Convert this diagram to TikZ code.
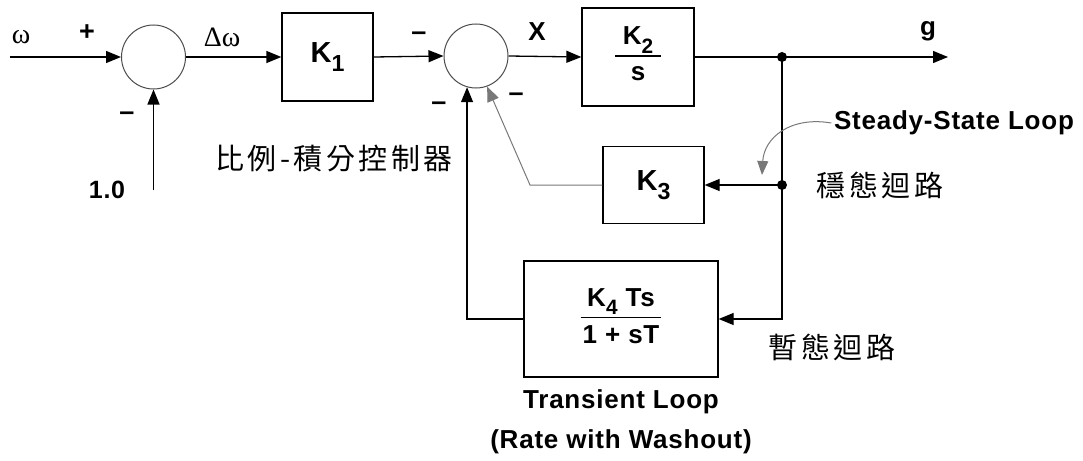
\documentclass[tikz,border=0pt]{standalone}
\usepackage{fontspec}
\usepackage{graphicx}
\setmainfont{Liberation Sans}[LetterSpace=3]
\newfontfamily\cjk{Noto Sans CJK TC}[LetterSpace=12]
\newfontfamily\grk{Liberation Serif}
\usetikzlibrary{arrows.meta}
\definecolor{lgrey}{RGB}{120,120,120}
\newcommand\lsub[1]{\raisebox{-0.32em}{\scalebox{0.8}{#1}}}
\begin{document}
\begin{tikzpicture}[x=1pt,y=-1pt,
  line width=1.3pt,
  >={Triangle[length=15pt,width=12pt]},
  blk/.style={draw, line width=1.3pt, inner sep=0pt, align=center},
  sumc/.style={draw=black!70, circle, line width=1pt, minimum size=64pt, inner sep=0pt},
  dotn/.style={circle, fill, inner sep=0pt, minimum size=10pt},
  lbl/.style={inner sep=0pt, font=\fontsize{26}{28}\selectfont\bfseries},
  sgn/.style={inner sep=0pt, font=\fontsize{27}{28}\selectfont\bfseries},
  grklbl/.style={inner sep=0pt, font=\fontsize{28}{30}\selectfont\grk},
  cjklbl/.style={inner sep=0pt, font=\fontsize{29}{32}\selectfont\cjk},
  note/.style={inner sep=2pt, font=\fontsize{26}{30}\selectfont\bfseries},
  fb/.style={draw=lgrey, line width=1pt}
]
\path[use as bounding box] (0,0) rectangle (1083,460);

% summing junctions
\node[sumc] (s1) at (153.5,57) {};
\node[sumc] (s2) at (476,56) {};

% blocks
\node[blk, minimum width=91pt, minimum height=88pt, font=\fontsize{29}{32}\selectfont\bfseries] (K1) at (327.5,57) {K\lsub{1}};
\node[blk, minimum width=112pt, minimum height=98pt, font=\fontsize{26}{29}\selectfont\bfseries] (K2) at (638,57)
  {\setlength\arrayrulewidth{1.3pt}\setlength\tabcolsep{8pt}\begin{tabular}{c}K\lsub{2}\\[2pt]\hline\rule{0pt}{24pt}s\end{tabular}};
\node[blk, minimum width=101pt, minimum height=77pt, font=\fontsize{29}{32}\selectfont\bfseries] (K3) at (653.5,185) {K\lsub{3}};
\node[blk, minimum width=194pt, minimum height=116pt, font=\fontsize{26}{29}\selectfont\bfseries] (K4) at (621,319)
  {\setlength\arrayrulewidth{1.3pt}\setlength\tabcolsep{2pt}\begin{tabular}{c}K\lsub{4} Ts\\[2pt]\hline\rule{0pt}{25pt}1 + sT\end{tabular}};

% branch points and free ends
\node[dotn] (d1) at (782,57) {};
\node[dotn] (d2) at (782,185) {};
\coordinate (in1) at (10,57);
\coordinate (in2) at (153.5,190);
\coordinate (out) at (948,57);
\coordinate (bend) at (530,185);
\coordinate (sstip) at (762,175);

% connectors
\draw[->] (in1) -- (s1.west);
\draw[->] (in2) -- (s1.south);
\draw[->] (s1.east) -- (K1.west);
\draw[->] (K1.east) -- (s2.west);
\draw[->] (s2.east) -- (K2.west);
\draw (K2.east) -- (d1.center);
\draw[->] (d1.center) -- (out);
\draw (d1.center) -- (d2.center);
\draw[->] (d2.center) -- (K3.east);
\draw[->] (d2.center) |- (K4.east);
\draw[->] (K4.west) -| (s2.-106);
\draw[fb,->] (K3.west) -- (bend) -- (s2.-70);

% labels
\node[grklbl] (lw) at (21,37) {ω};
\node[sgn] (p1) at (87,33) {+};
\node[sgn] (m1) at (127,116) {–};
\node[lbl, font=\fontsize{25}{28}\selectfont\bfseries] (one) at (107,190) {1.0};
\node[grklbl] (ldw) at (222,37) {Δω};
\node[sgn] (m2) at (419,36) {–};
\node[sgn] (m3) at (439,106) {–};
\node[sgn] (m4) at (516,97) {–};
\node[lbl] (lx) at (537,32) {X};
\node[lbl] (lg) at (928,31) {g};

\node[cjklbl] (pi) at (334,158) {比例-積分控制器};
\node[cjklbl] (ss) at (880,185) {穩態迴路};
\node[cjklbl] (tr) at (832,347) {暫態迴路};

\node[note] (ssl) at (954,123) {Steady-State Loop};
\draw[fb,->,>={Triangle[length=14pt,width=11pt]}] (ssl.west) .. controls (790,116) and (764,138) .. (sstip);
\node[note] (tl1) at (621,402) {Transient Loop};
\node[note] (tl2) at (621,442) {(Rate with Washout)};
\end{tikzpicture}
\end{document}
